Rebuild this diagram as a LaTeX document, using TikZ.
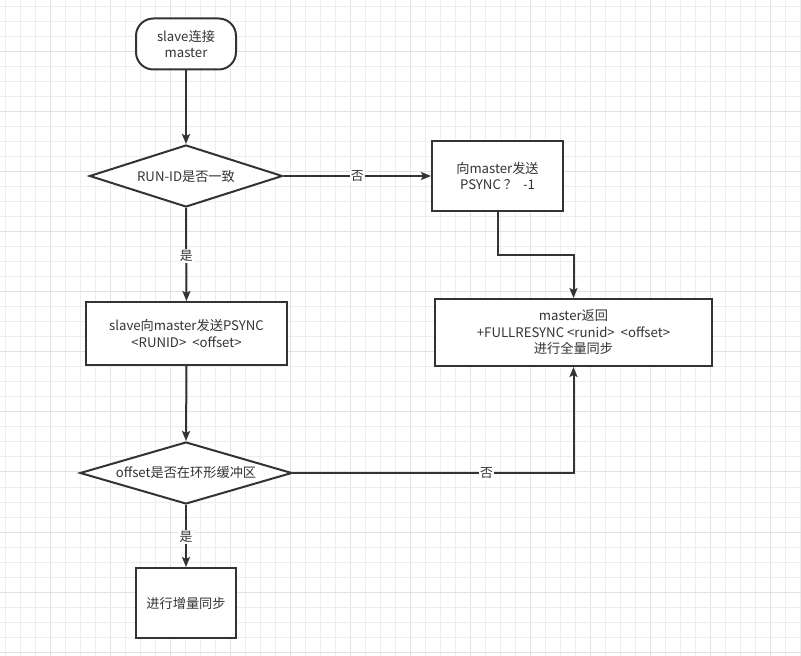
\documentclass[tikz,border=0pt]{standalone}
\usepackage{fontspec}
\setmainfont{Noto Sans CJK SC}
\usetikzlibrary{shapes.geometric,arrows.meta}
\definecolor{ln}{HTML}{333333}
\definecolor{gridminor}{HTML}{EDEDED}
\definecolor{gridmajor}{HTML}{E2E2E2}
\tikzset{
  base/.style={draw=ln,line width=1.5pt,fill=white,text=ln,align=center,inner sep=0pt,
    font=\fontsize{9.9pt}{12.4pt}\selectfont},
  term/.style={base,rectangle,rounded corners=13pt},
  proc/.style={base,rectangle},
  deci/.style={base,diamond},
  arr/.style={draw=ln,line width=1.5pt,-{Stealth[length=7.5pt,width=6pt,inset=1.5pt]}},
  lab/.style={fill=white,text=ln,inner sep=1pt,font=\fontsize{9.6pt}{11pt}\selectfont}
}
\begin{document}
\begin{tikzpicture}[x=0.75pt,y=-0.75pt]
\useasboundingbox (0,0) rectangle (801,656);
\fill[white] (0,0) rectangle (801,656);
% grid
\foreach \i in {0,...,53}{
  \pgfmathsetmacro{\xx}{5+15*\i}
  \pgfmathtruncatemacro{\m}{mod(\i,4)}
  \ifnum\m=3 \draw[gridmajor,line width=0.75pt] (\xx,0) -- (\xx,656);
  \else \draw[gridminor,line width=0.75pt] (\xx,0) -- (\xx,656); \fi
}
\foreach \i in {0,...,43}{
  \pgfmathsetmacro{\yy}{7+15*\i}
  \pgfmathtruncatemacro{\m}{mod(\i,4)}
  \ifnum\m=3 \draw[gridmajor,line width=0.75pt] (0,\yy) -- (801,\yy);
  \else \draw[gridminor,line width=0.75pt] (0,\yy) -- (801,\yy); \fi
}
% nodes
\node[term,minimum width=75pt,minimum height=38.25pt] (start) at (186,44) {slave连接\\master};
\node[deci,shape aspect=3.11,minimum width=144.75pt,minimum height=46.5pt] (d1) at (186,176) {RUN-ID是否一致};
\node[proc,minimum width=98.25pt,minimum height=52.5pt] (b2) at (497.5,176) {向master发送\\PSYNC ？\ \ -1};
\node[proc,minimum width=150.75pt,minimum height=47.25pt] (b3) at (186.5,333.5) {slave向master发送PSYNC\\<RUNID>\ \ <offset>};
\node[proc,minimum width=207.75pt,minimum height=50.25pt] (b4) at (573.5,332.5) {master返回\\+FULLRESYNC\ <runid>\ \ <offset>\\进行全量同步};
\node[deci,shape aspect=3.42,minimum width=159pt,minimum height=46.5pt] (d2) at (186,473) {offset是否在环形缓冲区};
\node[proc,minimum width=75pt,minimum height=52.5pt] (b5) at (186,603) {进行增量同步};
% connectors
\draw[arr] (start) -- (d1);
\draw[arr] (d1.east) -- (b2.west) node[lab,midway] {否};
\draw[arr] (d1.south) -- (b3.north) node[lab,pos=0.52] {是};
\coordinate (k1) at (0,255);
\draw[arr] (b2.south) -- (b2.south |- k1) -| (b4.north);
\draw[arr] (b3.south) -- (d2.north);
\draw[arr] (d2.east) -| (b4.south) node[lab,pos=0.345] {否};
\draw[arr] (d2.south) -- (b5.north) node[lab,pos=0.52] {是};
\end{tikzpicture}
\end{document}
